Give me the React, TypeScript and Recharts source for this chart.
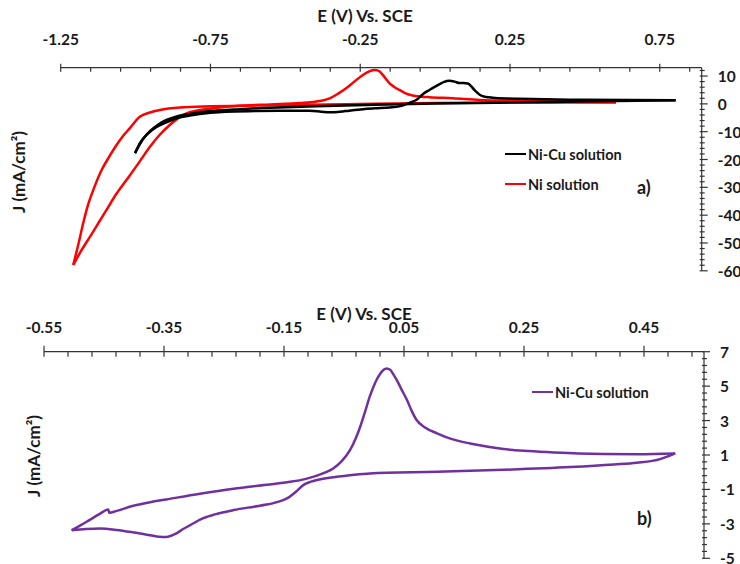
import React from 'react';
import { LineChart, Line, XAxis, YAxis } from 'recharts';

// panel a) – E (V) vs J (mA/cm2); each loop is split into its two sweeps (sorted by E)
const niCuAFwd: [number, number][] = [
  [-1.002, -17.7], [-0.975, -12.6], [-0.952, -9.8], [-0.925, -7.5], [-0.897, -5.8], [-0.86, -4.4],
  [-0.82, -3.6], [-0.75, -2.6], [-0.652, -1.9], [-0.55, -1.4], [-0.4, -0.9], [-0.2, -0.3],
  [0.0, 0.1], [0.2, 0.4], [0.4, 0.7], [0.6, 1.0], [0.803, 1.3],
];
const niCuARev: [number, number][] = [
  [-1.002, -17.7], [-0.985, -14.0], [-0.96, -10.8], [-0.93, -8.3], [-0.897, -6.6], [-0.86, -5.1],
  [-0.819, -4.2], [-0.75, -3.2], [-0.7, -2.8], [-0.6, -2.6], [-0.5, -2.5], [-0.42, -2.5],
  [-0.38, -2.8], [-0.352, -3.0], [-0.325, -2.9], [-0.3, -2.6], [-0.241, -1.9], [-0.2, -1.6],
  [-0.152, -1.3], [-0.12, -0.9], [-0.097, -0.1], [-0.08, 0.6], [-0.063, 1.4], [-0.041, 3.5],
  [-0.019, 5.0], [0.0, 6.2], [0.015, 7.1], [0.03, 7.9], [0.048, 8.3], [0.065, 8.0], [0.081, 7.5],
  [0.095, 7.5], [0.109, 7.3], [0.12, 6.4], [0.131, 5.0], [0.142, 3.9], [0.153, 3.0], [0.17, 2.5],
  [0.192, 2.2], [0.24, 1.9], [0.281, 1.8], [0.45, 1.5], [0.65, 1.4], [0.803, 1.3],
];

const niAFwd: [number, number][] = [
  [-1.208, -57.9], [-1.19, -50.0], [-1.175, -42.9], [-1.158, -36.0], [-1.141, -30.9],
  [-1.113, -23.7], [-1.088, -19.0], [-1.063, -14.7], [-1.04, -11.3], [-1.019, -8.7],
  [-0.986, -4.6], [-0.952, -3.1], [-0.919, -2.2], [-0.852, -1.3], [-0.75, -0.9], [-0.652, -0.7],
  [-0.5, -0.4], [-0.3, -0.1], [0.0, 0.3], [0.3, 0.5], [0.604, 0.5],
];
const niARev: [number, number][] = [
  [-1.208, -57.9], [-1.18, -52.5], [-1.152, -47.7], [-1.125, -43.0], [-1.097, -38.1],
  [-1.065, -32.5], [-1.03, -27.3], [-0.99, -21.3], [-0.952, -15.4], [-0.92, -11.2],
  [-0.886, -7.6], [-0.86, -5.3], [-0.83, -3.4], [-0.79, -2.3], [-0.741, -1.6], [-0.652, -0.7],
  [-0.55, -0.2], [-0.45, 0.3], [-0.4, 0.8], [-0.352, 2.0], [-0.325, 3.6], [-0.297, 5.6],
  [-0.27, 8.0], [-0.241, 10.4], [-0.22, 11.7], [-0.2, 12.2], [-0.185, 11.6], [-0.17, 9.8],
  [-0.152, 7.4], [-0.135, 6.0], [-0.119, 5.0], [-0.1, 3.9], [-0.075, 3.0], [-0.045, 2.6],
  [-0.019, 2.4], [0.059, 2.0], [0.148, 1.4], [0.3, 1.0], [0.45, 0.8], [0.604, 0.7],
];

// panel b)
const niCuBUp: [number, number][] = [
  [-0.504, -3.37], [-0.49, -3.1], [-0.479, -2.88], [-0.467, -2.62], [-0.457, -2.42],
  [-0.443, -2.16], [-0.441, -2.36], [-0.43, -2.26], [-0.401, -1.95], [-0.373, -1.74],
  [-0.346, -1.58], [-0.29, -1.25], [-0.234, -0.96], [-0.179, -0.73], [-0.14, -0.56],
  [-0.115, -0.4], [-0.095, -0.2], [-0.08, 0.0], [-0.068, 0.22], [-0.055, 0.6], [-0.04, 1.28],
  [-0.03, 2.0], [-0.023, 2.64], [-0.015, 3.5], [-0.007, 4.4], [0.002, 5.2], [0.01, 5.7],
  [0.016, 5.95], [0.021, 6.03], [0.027, 5.95], [0.032, 5.7], [0.038, 5.35], [0.046, 4.8],
  [0.055, 4.19], [0.063, 3.55], [0.071, 3.03], [0.085, 2.6], [0.105, 2.26], [0.13, 1.92],
  [0.16, 1.67], [0.19, 1.48], [0.216, 1.35], [0.25, 1.24], [0.299, 1.15], [0.34, 1.09],
  [0.382, 1.06], [0.44, 1.05], [0.502, 1.09],
];
const niCuBDown: [number, number][] = [
  [-0.504, -3.37], [-0.48, -3.3], [-0.457, -3.27], [-0.429, -3.35], [-0.4, -3.5],
  [-0.373, -3.66], [-0.358, -3.75], [-0.346, -3.76], [-0.332, -3.6], [-0.318, -3.3],
  [-0.3, -2.95], [-0.29, -2.75], [-0.265, -2.45], [-0.234, -2.2], [-0.2, -2.0], [-0.179, -1.88],
  [-0.16, -1.72], [-0.145, -1.52], [-0.129, -1.1], [-0.118, -0.75], [-0.105, -0.55],
  [-0.08, -0.35], [-0.04, -0.18], [-0.007, -0.07], [0.105, 0.02], [0.216, 0.14], [0.327, 0.3],
  [0.4, 0.45], [0.438, 0.55], [0.477, 0.76], [0.502, 1.09],
];

const xMajorA = [-1.25, -0.75, -0.25, 0.25, 0.75];
const yMajorA = [-60, -50, -40, -30, -20, -10, 0, 10];
const xMajorB = [-0.55, -0.35, -0.15, 0.05, 0.25, 0.45];
const yMajorB = [-5, -3, -1, 1, 3, 5, 7];

const steps = (from: number, to: number, step: number) => {
  const out: number[] = [];
  for (let v = from; v <= to + 1e-9; v += step) out.push(Math.round(v * 1000) / 1000);
  return out;
};

const toRows = (pts: [number, number][]) => pts.map(([e, j]) => ({ e, j }));

const FONT = 'Lato, "Open Sans", sans-serif';
const TXT = '#1a1a1a';
const AX = '#333';

const isIn = (v: number, list: number[]) => list.some((m) => Math.abs(m - v) < 1e-6);

const makeXTick = (majors: number[], up: number, down: number, dy: number) => (props: any) => {
  const { x, y, payload } = props;
  const major = isIn(payload.value, majors);
  return (
    <g>
      <line x1={x} x2={x} y1={major ? y - up : y} y2={y + down} stroke={AX} strokeWidth={1.2} />
      {major && (
        <text x={x} y={y + dy} textAnchor="middle" fontFamily={FONT} fontWeight={700} fontSize={15.5} fill={TXT}>
          {payload.value.toFixed(2)}
        </text>
      )}
    </g>
  );
};

const makeYTick = (majors: number[]) => (props: any) => {
  const { x, y, payload } = props;
  const major = isIn(payload.value, majors);
  return (
    <g>
      <line x1={x - 2} x2={x + (major ? 6 : 3)} y1={y} y2={y} stroke={AX} strokeWidth={1.2} />
      {major && (
        <text x={x + 16} y={y} dominantBaseline="central" textAnchor="start" fontFamily={FONT} fontWeight={700} fontSize={15.5} fill={TXT}>
          {payload.value}
        </text>
      )}
    </g>
  );
};

const abs = (left: number, top: number, extra: React.CSSProperties = {}): React.CSSProperties => ({
  position: 'absolute', left, top, fontFamily: FONT, fontWeight: 700, color: TXT, whiteSpace: 'nowrap', ...extra,
});

const LegendLine = ({ left, top, color, label }: { left: number; top: number; color: string; label: string }) => (
  <>
    <div style={{ position: 'absolute', left, top: top - 1.25, width: 21, height: 2.5, background: color }} />
    <div style={abs(left + 23, top, { fontSize: 14.5, transform: 'translateY(-50%)' })}>{label}</div>
  </>
);

const series = (pts: [number, number][], color: string, key: string) => (
  <Line key={key} data={toRows(pts)} dataKey="j" type="monotone" stroke={color} strokeWidth={2.5}
    dot={false} activeDot={false} isAnimationActive={false} />
);

export default function App() {
  return (
    <div style={{ position: 'absolute', left: 0, top: 0, width: 740, height: 564, background: '#fff' }}>
      <div style={{ position: 'absolute', left: 0, top: 0 }}>
        <LineChart width={740} height={290} margin={{ top: 37.7, right: 0, bottom: 19.2, left: 60.7 }}>
          <XAxis
            type="number" dataKey="e" orientation="top" domain={[-1.25, 0.89]} allowDataOverflow
            ticks={steps(-1.25, 0.85, 0.1)} interval={0} height={30}
            tickLine={false} tickSize={0} tickMargin={0}
            axisLine={{ stroke: AX, strokeWidth: 1.2 }}
            tick={makeXTick(xMajorA, 4, 4, -22.7)}
          />
          <YAxis
            type="number" dataKey="j" orientation="right" domain={[-60, 13]} allowDataOverflow
            ticks={steps(-60, 12, 2)} interval={0} width={38.3}
            tickLine={false} tickSize={0} tickMargin={0}
            axisLine={{ stroke: AX, strokeWidth: 1.2 }}
            tick={makeYTick(yMajorA)}
          />
          {series(niAFwd, '#ff0000', 'nif')}
          {series(niARev, '#ff0000', 'nir')}
          {series(niCuAFwd, '#000000', 'ncf')}
          {series(niCuARev, '#000000', 'ncr')}
        </LineChart>
      </div>
      <div style={{ position: 'absolute', left: 0, top: 290 }}>
        <LineChart width={740} height={274} margin={{ top: 31.7, right: 0, bottom: 5.7, left: 44 }}>
          <XAxis
            type="number" dataKey="e" orientation="top" domain={[-0.55, 0.55]} allowDataOverflow
            ticks={steps(-0.55, 0.53, 0.04)} interval={0} height={30}
            tickLine={false} tickSize={0} tickMargin={0}
            axisLine={{ stroke: AX, strokeWidth: 1.2 }}
            tick={makeXTick(xMajorB, 6, 5, -19)}
          />
          <YAxis
            type="number" dataKey="j" orientation="right" domain={[-5, 7]} allowDataOverflow
            ticks={steps(-5, 7, 0.4)} interval={0} width={36}
            tickLine={false} tickSize={0} tickMargin={0}
            axisLine={{ stroke: AX, strokeWidth: 1.2 }}
            tick={makeYTick(yMajorB)}
          />
          {series(niCuBUp, '#7030a0', 'bu')}
          {series(niCuBDown, '#7030a0', 'bd')}
        </LineChart>
      </div>

      <div style={abs(365, 15, { fontSize: 17, transform: 'translate(-50%, -50%)' })}>E (V) Vs. SCE</div>
      <div style={abs(364, 313, { fontSize: 17, transform: 'translate(-50%, -50%)' })}>E (V) Vs. SCE</div>
      <div style={abs(18, 172, { fontSize: 17, transform: 'translate(-50%, -50%) rotate(-90deg)' })}>J (mA/cm²)</div>
      <div style={abs(33, 456, { fontSize: 17, transform: 'translate(-50%, -50%) rotate(-90deg)' })}>J (mA/cm²)</div>

      <LegendLine left={505} top={154} color="#000000" label="Ni-Cu solution" />
      <LegendLine left={505} top={184} color="#ff0000" label="Ni solution" />
      <div style={abs(637, 187, { fontSize: 18, transform: 'translateY(-50%)' })}>a)</div>

      <LegendLine left={532} top={392} color="#7030a0" label="Ni-Cu solution" />
      <div style={abs(637, 518, { fontSize: 18, transform: 'translateY(-50%)' })}>b)</div>
    </div>
  );
}
